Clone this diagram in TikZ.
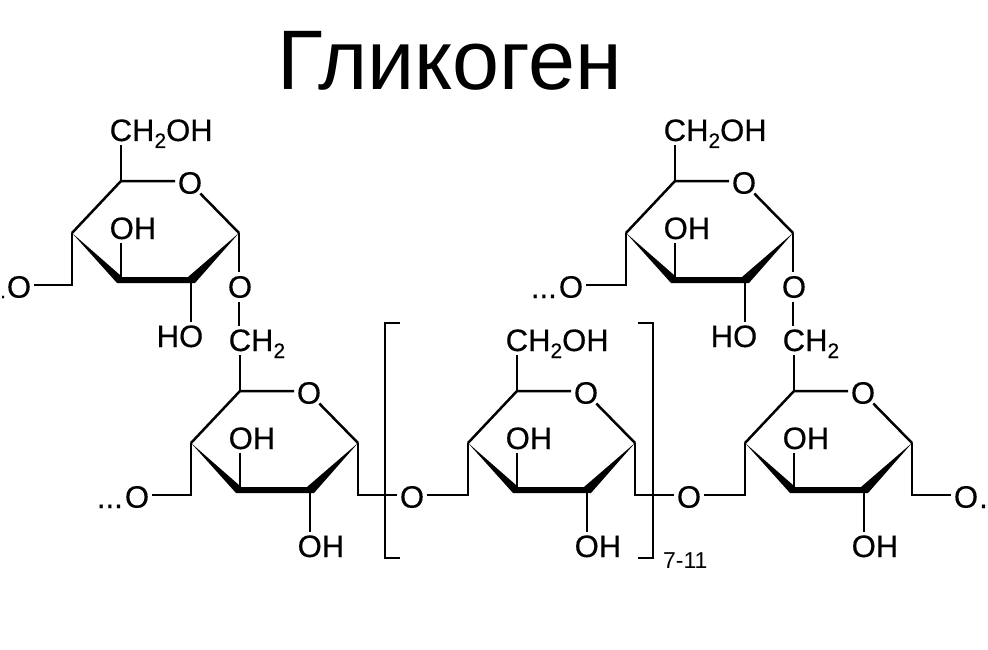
\documentclass[tikz,border=0pt]{standalone}
\usepackage{fontspec}
\setmainfont{Liberation Sans}
\newfontfamily\atomfam[FakeBold=0.35]{Liberation Sans}
\newcommand{\atomfont}{\atomfam\fontsize{31}{31}\selectfont}
\newcommand{\subtwo}{\raisebox{-7pt}[0pt][0pt]{\fontsize{21}{21}\selectfont 2}}
\tikzset{
  bond/.style={line width=2.5pt,line join=miter,line cap=butt},
  atomtext/.style={font=\atomfont,inner sep=3.5pt,anchor=base west,text=black},
  oxygen/.style={font=\atomfont,shape=circle,inner sep=-1.2pt,text=black},
  dots/.style={font=\atomfont,inner sep=0pt,anchor=base east,text=black},
  bracketline/.style={line width=2.2pt,line join=miter},
  wedgefill/.style={fill=black,draw=none}
}
\newcommand{\sugarring}[6]{%
  \begin{scope}[shift={(#2,#3)}]
    \coordinate (#1c5) at (121,181);
    \coordinate (#1c1) at (239,233);
    \coordinate (#1c2) at (191,280);
    \coordinate (#1c3) at (121,280);
    \coordinate (#1c4) at (72,233);
    \coordinate (#1d4) at (72,285);
    \coordinate (#1d1) at (239,285);
    \node[oxygen] (#1o) at (190,183) {O};
    \node[atomtext] (#1top) at (106,141) {#4};
    \node[atomtext] (#1oh) at (106,239) {OH};
    \node[atomtext] (#1low) at (#6,347) {#5};
    \fill[wedgefill] (#1c4) -- (120,275) -- (122,277) -- (188,277) -- (#1c1) -- (195,283) -- (117,283) -- cycle;
    \draw[bond] (#1c3) -- (#1c3 |- #1oh.south);
    \draw[bond] (#1c2) -- (#1c2 |- #1low.north);
    \draw[bond] (#1c4) -- (#1c5) -- (#1c5 -| #1o.west);
    \draw[bond] (#1c5) -- (#1c5 |- #1top.south);
    \draw[bond] (#1o) -- (#1c1);
  \end{scope}%
}
\begin{document}
\begin{tikzpicture}[x=1pt,y=-1pt]
\useasboundingbox (0,0) rectangle (988,650);
\fill[white] (0,0) rectangle (988,650);
\node[font=\fontsize{84.5}{84.5}\selectfont,inner sep=0pt,anchor=base west,text=black] (title) at (277,90) {Гликоген};
\sugarring{a}{0}{0}{CH\subtwo OH}{HO}{153}
\sugarring{e}{554}{0}{CH\subtwo OH}{HO}{153}
\sugarring{b}{119}{210}{CH\subtwo}{OH}{175}
\sugarring{c}{396}{210}{CH\subtwo OH}{OH}{175}
\sugarring{d}{673}{210}{CH\subtwo}{OH}{175}
\node[oxygen] (la) at (19,287) {O};
\node[oxygen] (le) at (571,287) {O};
\node[oxygen] (lb) at (137,497) {O};
\node[oxygen] (ob) at (412,497) {O};
\node[oxygen] (oc) at (689,497) {O};
\node[oxygen] (rd) at (966,497) {O};
\node[oxygen] (va) at (240,287) {O};
\node[oxygen] (ve) at (794,287) {O};
\node[dots,font=\atomfam\fontsize{20}{20}\selectfont] (da) at (6,298) {.};
\node[dots] (de) at (557,298) {...};
\node[dots] (db) at (123,508) {...};
\node[font=\atomfont,inner sep=0pt,anchor=base west,text=black] (dd) at (979,508) {.};
\draw[bond] (ac4) -- (ad4) -- (ad4 -| la.east);
\draw[bond] (ec4) -- (ed4) -- (ed4 -| le.east);
\draw[bond] (bc4) -- (bd4) -- (bd4 -| lb.east);
\draw[bond] (ac1) -- (ac1 |- va.north);
\draw[bond] (ec1) -- (ec1 |- ve.north);
\draw[bond] (ac1 |- va.south) -- (ac1 |- btop.north);
\draw[bond] (ec1 |- ve.south) -- (ec1 |- dtop.north);
\draw[bond] (bc1) -- (bd1) -- (bd1 -| ob.west);
\draw[bond] (ob.east |- cd4) -- (cd4) -- (cc4);
\draw[bond] (cc1) -- (cd1) -- (cd1 -| oc.west);
\draw[bond] (oc.east |- dd4) -- (dd4) -- (dc4);
\draw[bond] (dc1) -- (dd1) -- (dd1 -| rd.west);
\draw[bracketline] (400,323) -- (385,323) -- (385,558) -- (400,558);
\draw[bracketline] (638,323) -- (653,323) -- (653,558) -- (638,558);
\node[font=\fontsize{23}{23}\selectfont,inner sep=0pt,anchor=base west,text=black] (rep) at (663,568) {7-11};
\end{tikzpicture}
\end{document}
